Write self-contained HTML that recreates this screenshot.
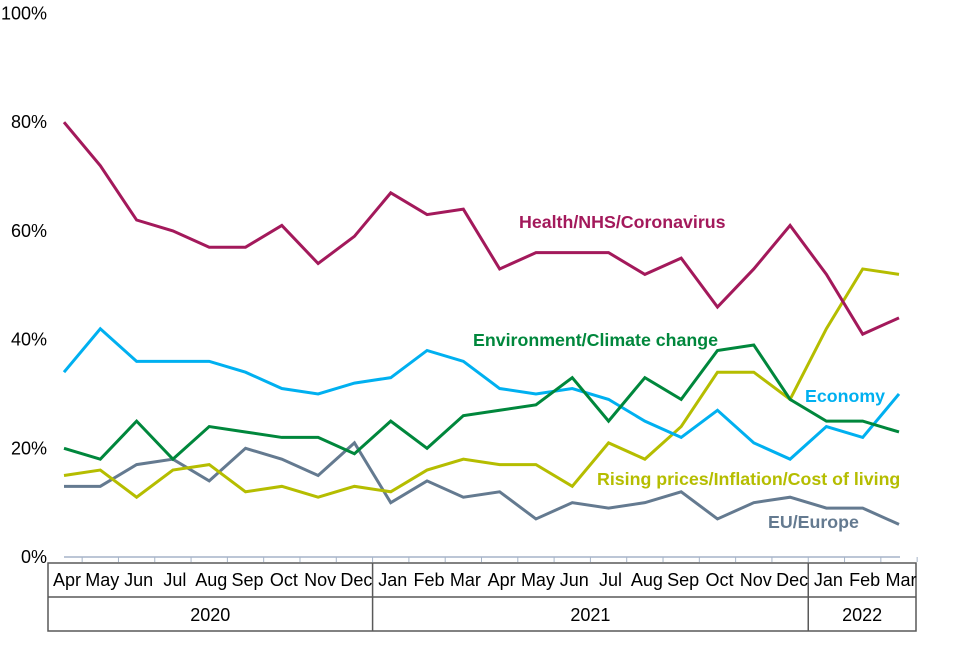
<!DOCTYPE html>
<html><head><meta charset="utf-8"><style>
body{margin:0;background:#fff;font-family:"Liberation Sans",Arial,sans-serif}
svg text{font-family:"Liberation Sans",Arial,sans-serif}
</style></head><body>
<svg id="chart" width="960" height="640" viewBox="0 0 960 640" xmlns="http://www.w3.org/2000/svg">
<g id="axes"></g><g id="series"></g><g id="labels"></g>
</svg>
<script>
const months=["Apr","May","Jun","Jul","Aug","Sep","Oct","Nov","Dec","Jan","Feb","Mar","Apr","May","Jun","Jul","Aug","Sep","Oct","Nov","Dec","Jan","Feb","Mar"];
const years=["2020","2021","2022"];
const yearSpans=[9,12,3];
const yTicks=[0,20,40,60,80,100];
const health=[80,72,62,60,57,57,61,54,59,67,63,64,53,56,56,56,52,55,46,53,61,52,41,44];
const economy=[34,42,36,36,36,34,31,30,32,33,38,36,31,30,31,29,25,22,27,21,18,24,22,30];
const environment=[20,18,25,18,24,23,22,22,19,25,20,26,27,28,33,25,33,29,38,39,29,25,25,23];
const rising=[15,16,11,16,17,12,13,11,13,12,16,18,17,17,13,21,18,24,34,34,29,42,53,52];
const eu=[13,13,17,18,14,20,18,15,21,10,14,11,12,7,10,9,10,12,7,10,11,9,9,6];

const NS="http://www.w3.org/2000/svg";
const x0=64,x1=899,y0=557,y100=13.5;
const step=(x1-x0)/(months.length-1);
const X=i=>x0+i*step;
const Y=v=>y0-(v/100)*(y0-y100);
function mk(tag,attrs,parent){const e=document.createElementNS(NS,tag);for(const k in attrs)e.setAttribute(k,attrs[k]);parent.appendChild(e);return e;}
const axes=document.getElementById('axes'),series=document.getElementById('series'),labels=document.getElementById('labels');

yTicks.forEach(t=>{
  const tx=mk('text',{x:47,y:Y(t)+6,'text-anchor':'end','font-size':18,fill:'#000'},axes);
  
  
  tx.textContent=t+'%';
});
const axl=mk('line',{x1:x0,y1:y0,x2:x1+1,y2:y0,stroke:'#a6b4c8','stroke-width':1.5},axes);


for(let i=0;i<months.length;i++){
  const tk=mk('line',{x1:X(i)+step/2,y1:y0,x2:X(i)+step/2,y2:y0+5,stroke:'#a6b4c8','stroke-width':1},axes);
  
  
}
const tL=48,tR=916,tT=563,tM=597,tB=631;
const tb=mk('rect',{x:tL,y:tT,width:tR-tL,height:tB-tT,fill:'none',stroke:'#595959','stroke-width':1.5},axes);


const mid=mk('line',{x1:tL,y1:tM,x2:tR,y2:tM,stroke:'#595959','stroke-width':1.5},axes);


months.forEach((m,i)=>{
  const t=mk('text',{x:Math.max(X(i)+2,67),y:586,'text-anchor':'middle','font-size':18,fill:'#000'},axes);
  
  
  t.textContent=m;
});
let start=0;
years.forEach((yr,k)=>{
  const end=start+yearSpans[k];
  const left=k===0?tL:X(start)-step/2;
  const right=k===years.length-1?tR:X(end)-step/2;
  if(k>0){
    const d=mk('line',{x1:left,y1:tT,x2:left,y2:tB,stroke:'#595959','stroke-width':1.5},axes);
    
    
  }
  const t=mk('text',{x:(left+right)/2,y:621,'text-anchor':'middle','font-size':18,fill:'#000'},axes);
  
  
  t.textContent=yr;
  start=end;
});

const defs=[
 {d:eu,c:'#647a90',n:'eu-europe',label:'EU/Europe',lx:768,ly:528},
 {d:rising,c:'#b5bd00',n:'rising-prices',label:'Rising prices/Inflation/Cost of living',lx:597,ly:485},
 {d:economy,c:'#00b0f0',n:'economy',label:'Economy',lx:805,ly:402},
 {d:environment,c:'#00873c',n:'environment',label:'Environment/Climate change',lx:473,ly:346},
 {d:health,c:'#a3195b',n:'health-nhs',label:'Health/NHS/Coronavirus',lx:519,ly:228}
];
defs.forEach(s=>{
  const p=mk('polyline',{points:s.d.map((v,i)=>X(i)+','+Y(v)).join(' '),fill:'none',stroke:s.c,'stroke-width':3,'stroke-linejoin':'miter'},series);
  
  
  const t=mk('text',{x:s.lx,y:s.ly,'font-size':17.8,'font-weight':'bold',fill:s.c},labels);
  
  
  t.textContent=s.label;
});
</script>
</body></html>
